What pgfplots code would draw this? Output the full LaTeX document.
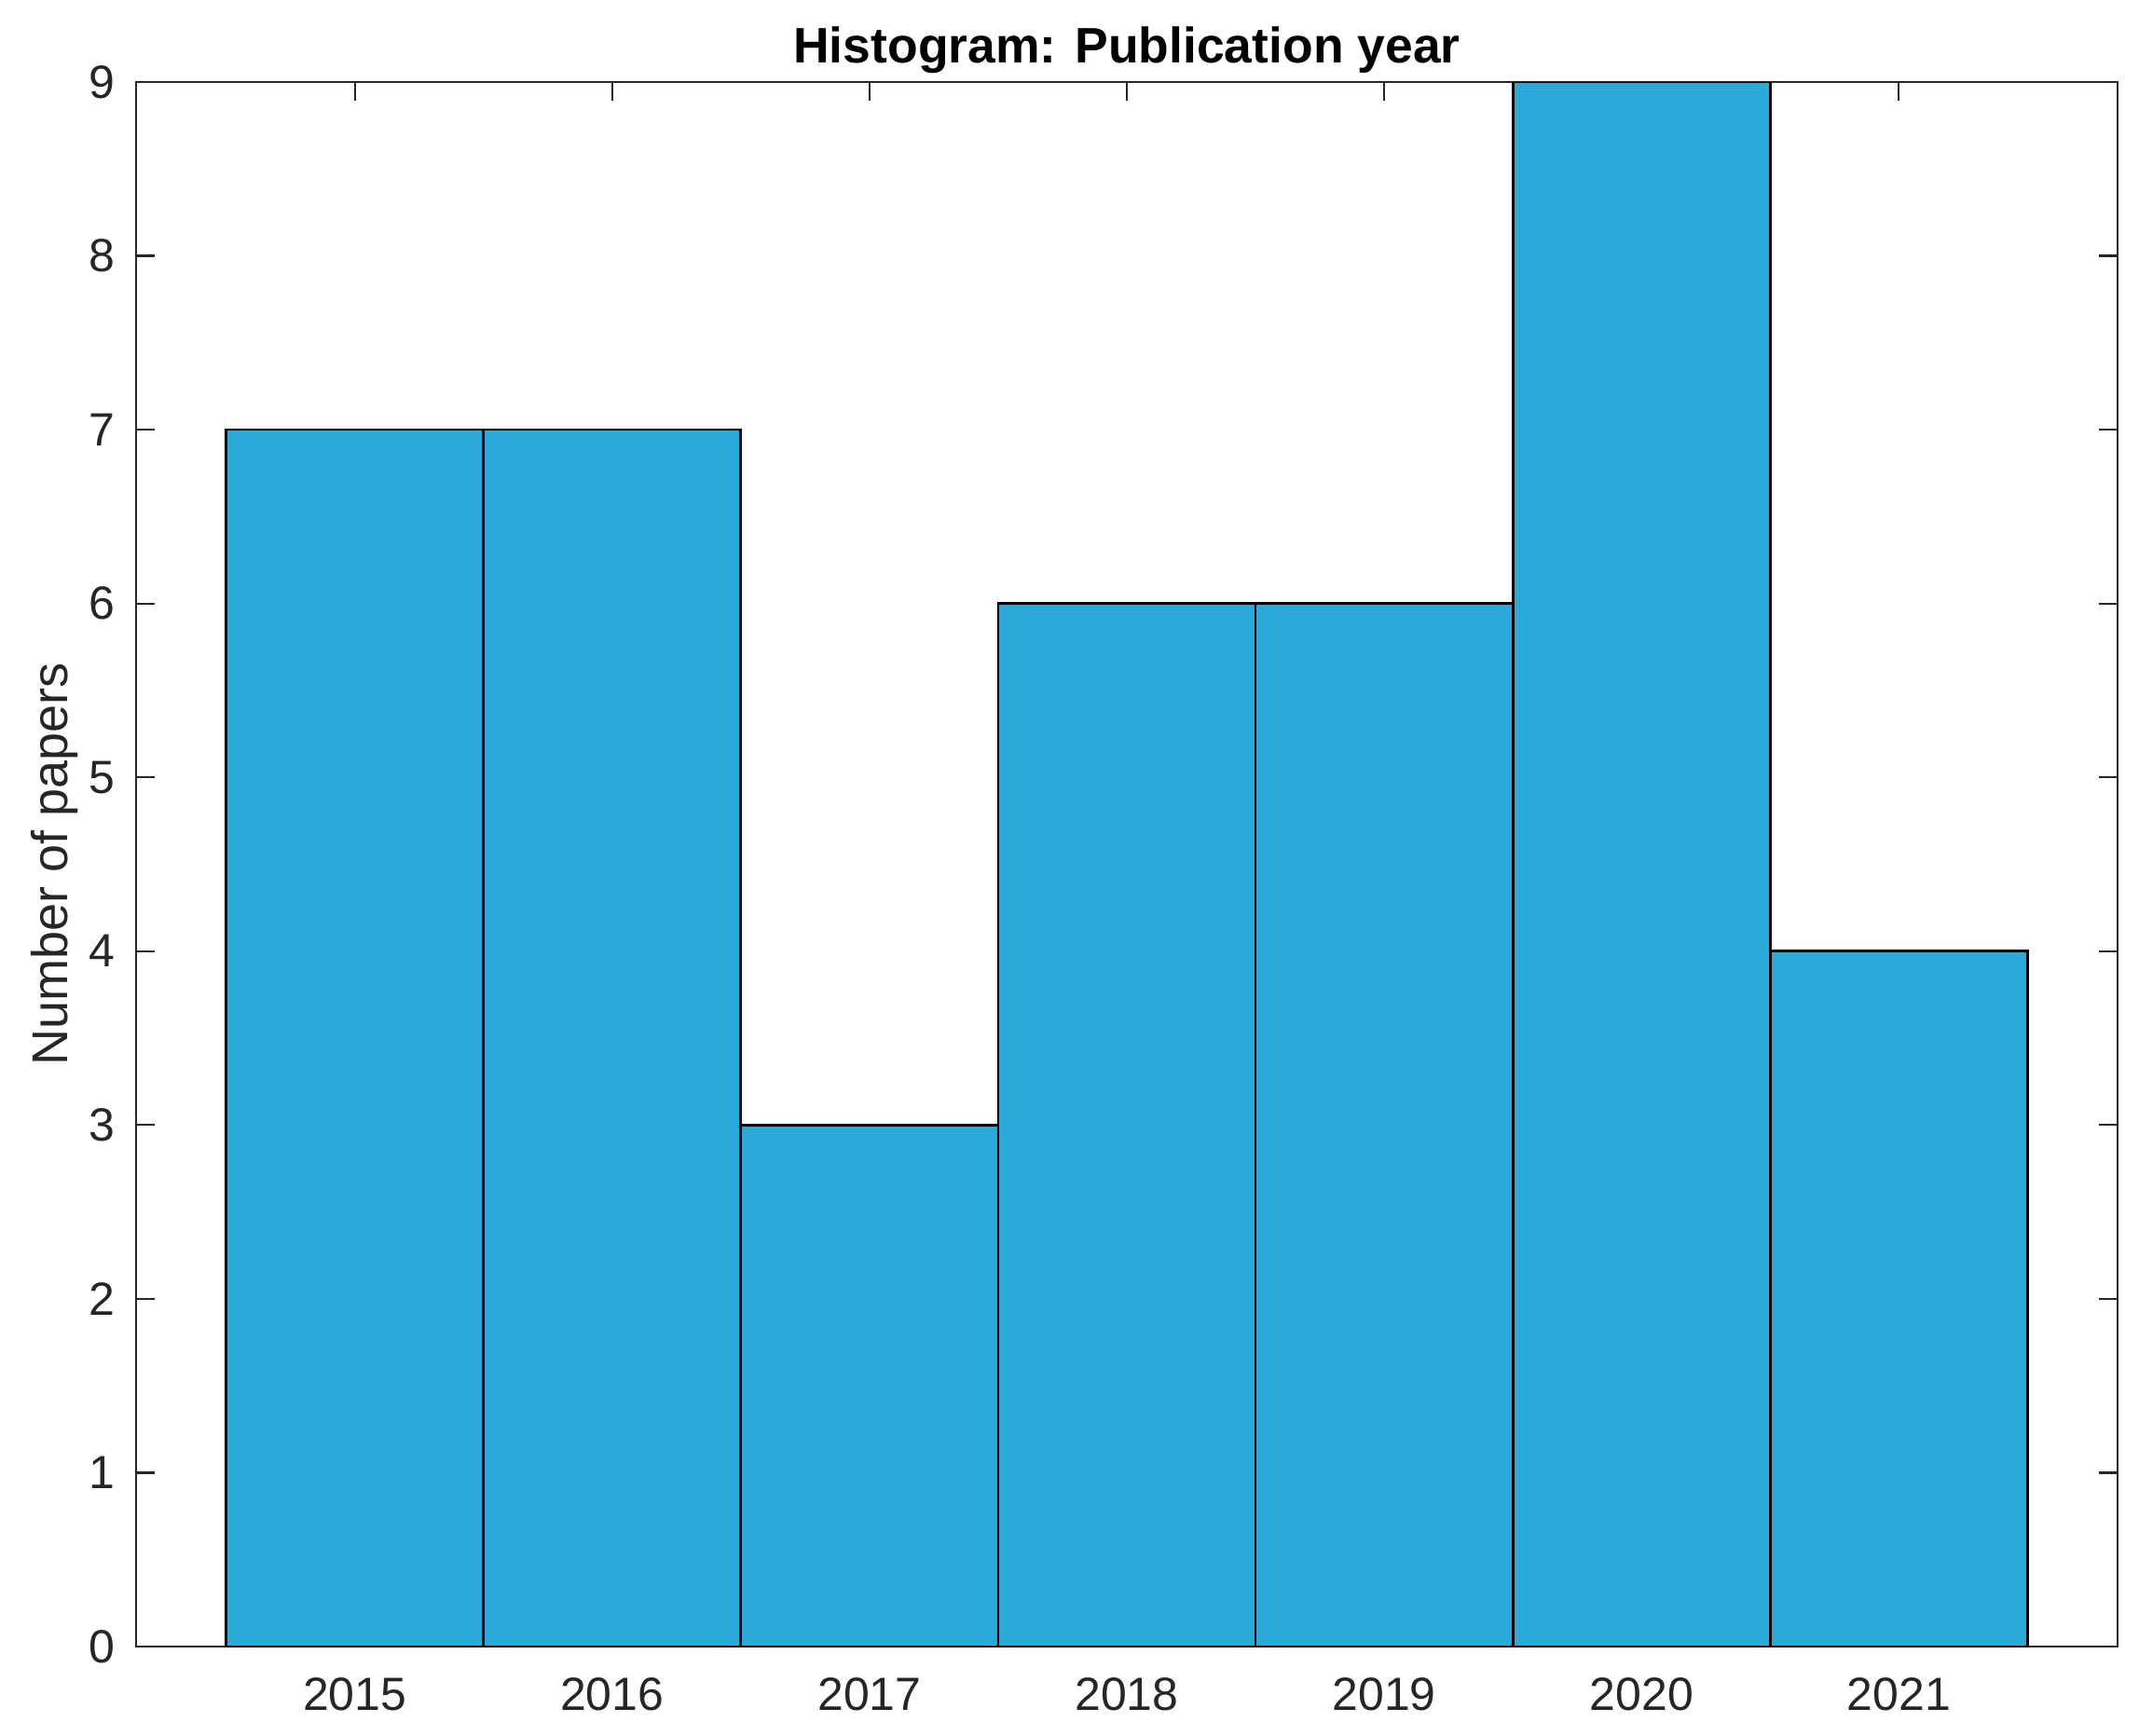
\documentclass[border=0pt]{standalone}
\usepackage{pgfplots}
\pgfplotsset{compat=1.18}
\usepackage{fontspec}
\setmainfont{Liberation Sans}
\definecolor{barc}{RGB}{42,170,218}
\definecolor{axc}{RGB}{38,38,38}
\begin{document}
\begin{tikzpicture}
\begin{axis}[
  width=425.2pt, height=335.8pt, scale only axis,
  xmin=2014.15, xmax=2021.85, ymin=0, ymax=9,
  xtick={2015,2016,2017,2018,2019,2020,2021},
  ytick={0,1,2,3,4,5,6,7,8,9},
  /pgf/number format/1000 sep={},
  /pgf/number format/assume math mode=true,
  axis line style={axc, line width=0.45pt},
  every tick/.style={axc, line width=0.45pt},
  tick label style={font=\fontsize{10}{12}\selectfont, text=axc},
  xticklabel style={yshift=-3.1pt},
  yticklabel style={xshift=-1pt},
  ylabel={Number of papers},
  every axis y label/.style={at={(axis description cs:-0.0412,0.5)}, anchor=center, rotate=90, font=\fontsize{10.8}{13}\selectfont, text=axc},
  title={Histogram: Publication year},
  title style={font=\bfseries\fontsize{10.7}{12}\selectfont, yshift=-7.6pt},
  tick align=inside, xtick align=inside, ytick align=inside, major tick length=4pt,
]
\addplot[ybar, bar width=1, bar shift=0pt, fill=barc, draw=black, line width=0.55pt] coordinates {
(2015,7) (2016,7) (2017,3) (2018,6) (2019,6) (2020,9) (2021,4)
};
\end{axis}
\pgfresetboundingbox
\path ([xshift=-29.2pt,yshift=-19pt]current axis.south west) rectangle ([xshift=4.6pt,yshift=17.6pt]current axis.north east);
\end{tikzpicture}
\end{document}
